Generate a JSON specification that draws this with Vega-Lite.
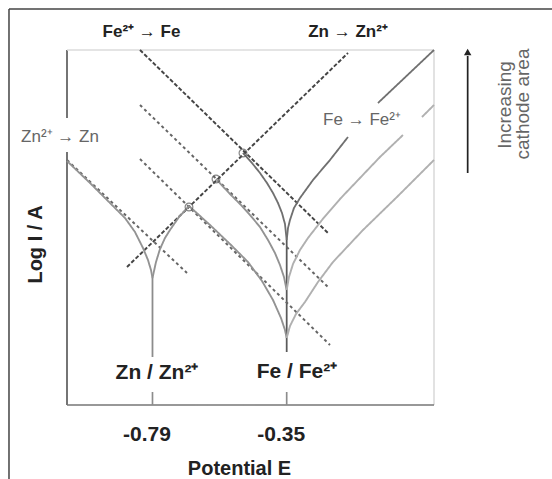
{
  "$schema": "https://vega.github.io/schema/vega-lite/v6.json",
  "width": 367,
  "height": 355,
  "autosize": "none",
  "padding": {"left": 67, "top": 50, "right": 118, "bottom": 74},
  "background": "white",
  "config": {"view": {"stroke": null}, "font": "Liberation Sans"},
  "datasets": {
    "lines": [
      {"s":"frameTop","g":"frame","o":0,"E":-1.2605,"L":39.6},{"s":"frameTop","g":"frame","o":1,"E":0.54,"L":39.6},
      {"s":"frameLeft","g":"frame","o":0,"E":-1.2605,"L":39.6},{"s":"frameLeft","g":"frame","o":1,"E":-1.2605,"L":-7.6},
      {"s":"axL1","g":"axis","o":0,"E":-1.0703,"L":35.5},{"s":"axL1","g":"axis","o":1,"E":-1.0703,"L":28.7},
      {"s":"axL2","g":"axis","o":0,"E":-1.0703,"L":25.3},{"s":"axL2","g":"axis","o":1,"E":-1.0703,"L":0},
      {"s":"bTop","g":"border","o":0,"E":-1.0703,"L":35.5},{"s":"bTop","g":"border","o":1,"E":0.133,"L":35.5},
      {"s":"bRight","g":"border","o":0,"E":0.133,"L":35.5},{"s":"bRight","g":"border","o":1,"E":0.133,"L":0},
      {"s":"axB","g":"axisB","o":0,"E":-1.0703,"L":0},{"s":"axB","g":"axisB","o":1,"E":0.133,"L":0},
      {"s":"t1","g":"tick","o":0,"E":-0.79,"L":0},{"s":"t1","g":"tick","o":1,"E":-0.79,"L":1.3},
      {"s":"t2","g":"tick","o":0,"E":-0.35,"L":0},{"s":"t2","g":"tick","o":1,"E":-0.35,"L":1.3},
      {"s":"arrow","g":"arrow","o":0,"E":0.2434,"L":23.2},{"s":"arrow","g":"arrow","o":1,"E":0.2434,"L":34.9},
      {"s":"znV","g":"znV","o":0,"E":-0.79,"L":12.7},{"s":"znV","g":"znV","o":1,"E":-0.79,"L":4.8},
      {"s":"feV","g":"feV","o":0,"E":-0.35,"L":16.5},{"s":"feV","g":"feV","o":1,"E":-0.35,"L":5.3},
      {"s":"tA","g":"dashDark","o":0,"E":-0.831,"L":35.5},{"s":"tA","g":"dashDark","o":1,"E":-0.2146,"L":17.2},
      {"s":"tB","g":"dashMid","o":0,"E":-0.831,"L":30.0},{"s":"tB","g":"dashMid","o":1,"E":-0.2146,"L":11.8},
      {"s":"tC","g":"dashMid","o":0,"E":-0.831,"L":24.6},{"s":"tC","g":"dashMid","o":1,"E":-0.208,"L":6.0},
      {"s":"tZa","g":"dashDark","o":0,"E":-0.8736,"L":13.8},{"s":"tZa","g":"dashDark","o":1,"E":-0.149,"L":35.2},
      {"s":"tZc","g":"dashMid","o":0,"E":-1.0703,"L":24.5},{"s":"tZc","g":"dashMid","o":1,"E":-0.6769,"L":13.2},
      {"s":"znC","g":"curveMid","o":0,"E":-1.0703,"L":24.4},{"s":"znC","g":"curveMid","o":1,"E":-0.9949,"L":22.2},{"s":"znC","g":"curveMid","o":2,"E":-0.9293,"L":20.2},{"s":"znC","g":"curveMid","o":3,"E":-0.8802,"L":18.7},{"s":"znC","g":"curveMid","o":4,"E":-0.8474,"L":17.3},{"s":"znC","g":"curveMid","o":5,"E":-0.8211,"L":15.7},{"s":"znC","g":"curveMid","o":6,"E":-0.8048,"L":14.5},{"s":"znC","g":"curveMid","o":7,"E":-0.7949,"L":13.5},{"s":"znC","g":"curveMid","o":8,"E":-0.79,"L":12.7},
      {"s":"znA","g":"curveMid","o":0,"E":-0.79,"L":12.7},{"s":"znA","g":"curveMid","o":1,"E":-0.7785,"L":14.3},{"s":"znA","g":"curveMid","o":2,"E":-0.7654,"L":15.6},{"s":"znA","g":"curveMid","o":3,"E":-0.749,"L":16.7},{"s":"znA","g":"curveMid","o":4,"E":-0.7326,"L":17.5},{"s":"znA","g":"curveMid","o":5,"E":-0.7031,"L":18.8},{"s":"znA","g":"curveMid","o":6,"E":-0.6703,"L":19.9},
      {"s":"feL1","g":"curveDark","o":0,"E":-0.4933,"L":25.2},{"s":"feL1","g":"curveDark","o":1,"E":-0.4638,"L":24.2},{"s":"feL1","g":"curveDark","o":2,"E":-0.4375,"L":23.2},{"s":"feL1","g":"curveDark","o":3,"E":-0.4146,"L":22.2},{"s":"feL1","g":"curveDark","o":4,"E":-0.3949,"L":21.2},{"s":"feL1","g":"curveDark","o":5,"E":-0.3785,"L":20.2},{"s":"feL1","g":"curveDark","o":6,"E":-0.3654,"L":19.2},{"s":"feL1","g":"curveDark","o":7,"E":-0.3556,"L":18.1},{"s":"feL1","g":"curveDark","o":8,"E":-0.35,"L":16.5},
      {"s":"feR1a","g":"curveDark","o":0,"E":-0.35,"L":16.5},{"s":"feR1a","g":"curveDark","o":1,"E":-0.3457,"L":17.7},{"s":"feR1a","g":"curveDark","o":2,"E":-0.3392,"L":18.5},{"s":"feR1a","g":"curveDark","o":3,"E":-0.3261,"L":19.7},{"s":"feR1a","g":"curveDark","o":4,"E":-0.3064,"L":20.7},{"s":"feR1a","g":"curveDark","o":5,"E":-0.2638,"L":22.5},{"s":"feR1a","g":"curveDark","o":6,"E":-0.208,"L":24.5},{"s":"feR1a","g":"curveDark","o":7,"E":-0.149,"L":26.8},
      {"s":"feR1b","g":"curveDark","o":0,"E":-0.0507,"L":30.2},{"s":"feR1b","g":"curveDark","o":1,"E":0.133,"L":35.5},
      {"s":"feL2","g":"curveMid","o":0,"E":-0.5818,"L":22.6},{"s":"feL2","g":"curveMid","o":1,"E":-0.5359,"L":21.1},{"s":"feL2","g":"curveMid","o":2,"E":-0.5031,"L":20.1},{"s":"feL2","g":"curveMid","o":3,"E":-0.4703,"L":19.0},{"s":"feL2","g":"curveMid","o":4,"E":-0.4375,"L":17.8},{"s":"feL2","g":"curveMid","o":5,"E":-0.4113,"L":16.5},{"s":"feL2","g":"curveMid","o":6,"E":-0.3884,"L":15.2},{"s":"feL2","g":"curveMid","o":7,"E":-0.372,"L":14.0},{"s":"feL2","g":"curveMid","o":8,"E":-0.3589,"L":12.8},{"s":"feL2","g":"curveMid","o":9,"E":-0.35,"L":11.5},
      {"s":"feR2a","g":"curveLight","o":0,"E":-0.35,"L":11.5},{"s":"feR2a","g":"curveLight","o":1,"E":-0.3425,"L":12.8},{"s":"feR2a","g":"curveLight","o":2,"E":-0.3293,"L":14.1},{"s":"feR2a","g":"curveLight","o":3,"E":-0.3064,"L":15.5},{"s":"feR2a","g":"curveLight","o":4,"E":-0.2802,"L":16.7},{"s":"feR2a","g":"curveLight","o":5,"E":-0.2343,"L":18.5},{"s":"feR2a","g":"curveLight","o":6,"E":-0.1752,"L":20.6},{"s":"feR2a","g":"curveLight","o":7,"E":-0.1097,"L":22.7},{"s":"feR2a","g":"curveLight","o":8,"E":-0.0441,"L":24.8},{"s":"feR2a","g":"curveLight","o":9,"E":0.0313,"L":27.0},
      {"s":"feR2b","g":"curveLight","o":0,"E":0.0936,"L":28.8},{"s":"feR2b","g":"curveLight","o":1,"E":0.133,"L":30.0},
      {"s":"feL3","g":"curveMid","o":0,"E":-0.6703,"L":19.9},{"s":"feL3","g":"curveMid","o":1,"E":-0.6015,"L":18.0},{"s":"feL3","g":"curveMid","o":2,"E":-0.5359,"L":16.1},{"s":"feL3","g":"curveMid","o":3,"E":-0.4769,"L":14.3},{"s":"feL3","g":"curveMid","o":4,"E":-0.431,"L":12.4},{"s":"feL3","g":"curveMid","o":5,"E":-0.3949,"L":10.5},{"s":"feL3","g":"curveMid","o":6,"E":-0.3687,"L":8.7},{"s":"feL3","g":"curveMid","o":7,"E":-0.3556,"L":7.5},{"s":"feL3","g":"curveMid","o":8,"E":-0.35,"L":6.7},
      {"s":"feR3","g":"curveLight","o":0,"E":-0.35,"L":6.7},{"s":"feR3","g":"curveLight","o":1,"E":-0.3392,"L":7.9},{"s":"feR3","g":"curveLight","o":2,"E":-0.3195,"L":9.1},{"s":"feR3","g":"curveLight","o":3,"E":-0.29,"L":10.3},{"s":"feR3","g":"curveLight","o":4,"E":-0.2474,"L":12.3},{"s":"feR3","g":"curveLight","o":5,"E":-0.1982,"L":14.3},{"s":"feR3","g":"curveLight","o":6,"E":-0.0998,"L":17.5},{"s":"feR3","g":"curveLight","o":7,"E":0.0116,"L":20.8},{"s":"feR3","g":"curveLight","o":8,"E":0.133,"L":24.5}
    ],
    "circles": [
      {"E":-0.6703,"L":19.8},{"E":-0.5818,"L":22.6},{"E":-0.4933,"L":25.2}
    ],
    "arrowhead": [{"E":0.2434,"L":35.3}],
    "topLabels": [
      {"t":"Fe²⁺ → Fe","E":-0.8261,"L":37.3},
      {"t":"Zn → Zn²⁺","E":-0.149,"L":37.3}
    ],
    "bigLabels": [
      {"t":"Zn / Zn²⁺","E":-0.7752,"L":3.2},
      {"t":"Fe / Fe²⁺","E":-0.3162,"L":3.3}
    ],
    "greyLabels": [
      {"t":"Zn²⁺ → Zn","E":-1.0933,"L":26.8},
      {"t":"Fe → Fe²⁺","E":-0.1031,"L":28.5}
    ],
    "sideLabels": [
      {"t":"Increasing","E":0.3657,"L":30.0},
      {"t":"cathode area","E":0.4248,"L":30.1}
    ]
  },
  "encoding": {
    "x": {
      "field": "E", "type": "quantitative",
      "scale": {"domain": [-1.0703, 0.133], "nice": false, "zero": false},
      "axis": {
        "values": [-0.79, -0.35],
        "labelExpr": "'-' + format(abs(datum.value), '.2f')",
        "domain": false, "ticks": false, "grid": false,
        "labelFont": "Liberation Sans", "labelFontSize": 21, "labelFontWeight": "bold", "labelColor": "#222",
        "labelPadding": 18, "labelOffset": -6,
        "title": "Potential E", "titleFont": "Liberation Sans", "titleFontSize": 20, "titleFontWeight": "bold", "titleColor": "#222",
        "titleX": 172, "titleY": 63, "titleBaseline": "middle", "titleAlign": "center"
      }
    },
    "y": {
      "field": "L", "type": "quantitative",
      "scale": {"domain": [0, 35.5], "nice": false, "zero": false},
      "axis": {
        "labels": false, "ticks": false, "domain": false, "grid": false,
        "title": "Log I / A", "titleFont": "Liberation Sans", "titleFontSize": 20, "titleFontWeight": "bold", "titleColor": "#222",
        "titleAngle": 270, "titleX": -32, "titleY": 194, "titleBaseline": "middle", "titleAlign": "center"
      }
    }
  },
  "layer": [
    {
      "data": {"name": "lines"},
      "mark": {"type": "line", "interpolate": "linear"},
      "encoding": {
        "detail": {"field": "s", "type": "nominal"},
        "order": {"field": "o", "type": "quantitative"},
        "color": {"field": "g", "type": "nominal", "legend": null,
          "scale": {"domain": ["frame","axis","axisB","border","tick","arrow","feV","znV","curveDark","curveMid","curveLight","dashDark","dashMid"],
                    "range": ["#444444","#4d4d4d","#777777","#dcdcdc","#8c8c8c","#222222","#5a5a5a","#8c8c8c","#707070","#939393","#b0b0b0","#454545","#666666"]}},
        "strokeWidth": {"field": "g", "type": "nominal", "legend": null,
          "scale": {"domain": ["frame","axis","axisB","border","tick","arrow","feV","znV","curveDark","curveMid","curveLight","dashDark","dashMid"],
                    "range": [1.5,2,2.5,1,1.5,1.6,2.2,1.2,1.4,1.3,1.3,1.6,1.6]}},
        "strokeDash": {"field": "g", "type": "nominal", "legend": null,
          "scale": {"domain": ["frame","axis","axisB","border","tick","arrow","feV","znV","curveDark","curveMid","curveLight","dashDark","dashMid"],
                    "range": [[1,0],[1,0],[1,0],[1,0],[1,0],[1,0],[1,0],[1,0],[1,0],[1,0],[1,0],[4,2],[3,3]]}}
      }
    },
    {
      "data": {"name": "circles"},
      "mark": {"type": "point", "shape": "circle", "filled": false, "size": 60, "color": "#555555", "strokeWidth": 1.2}
    },
    {
      "data": {"name": "arrowhead"},
      "mark": {"type": "point", "shape": "triangle-up", "filled": true, "size": 55, "color": "#222222", "opacity": 1}
    },
    {
      "data": {"name": "topLabels"},
      "mark": {"type": "text", "font": "Liberation Sans", "fontSize": 17, "fontWeight": "bold", "color": "#222222", "align": "center", "baseline": "middle"},
      "encoding": {"text": {"field": "t"}}
    },
    {
      "data": {"name": "bigLabels"},
      "mark": {"type": "text", "font": "Liberation Sans", "fontSize": 21, "fontWeight": "bold", "color": "#222222", "align": "center", "baseline": "middle"},
      "encoding": {"text": {"field": "t"}}
    },
    {
      "data": {"name": "greyLabels"},
      "mark": {"type": "text", "font": "Liberation Sans", "fontSize": 17, "color": "#666666", "align": "center", "baseline": "middle"},
      "encoding": {"text": {"field": "t"}}
    },
    {
      "data": {"name": "sideLabels"},
      "mark": {"type": "text", "font": "Liberation Sans", "fontSize": 19, "color": "#666666", "align": "center", "baseline": "middle", "angle": 270},
      "encoding": {"text": {"field": "t"}}
    }
  ]
}
